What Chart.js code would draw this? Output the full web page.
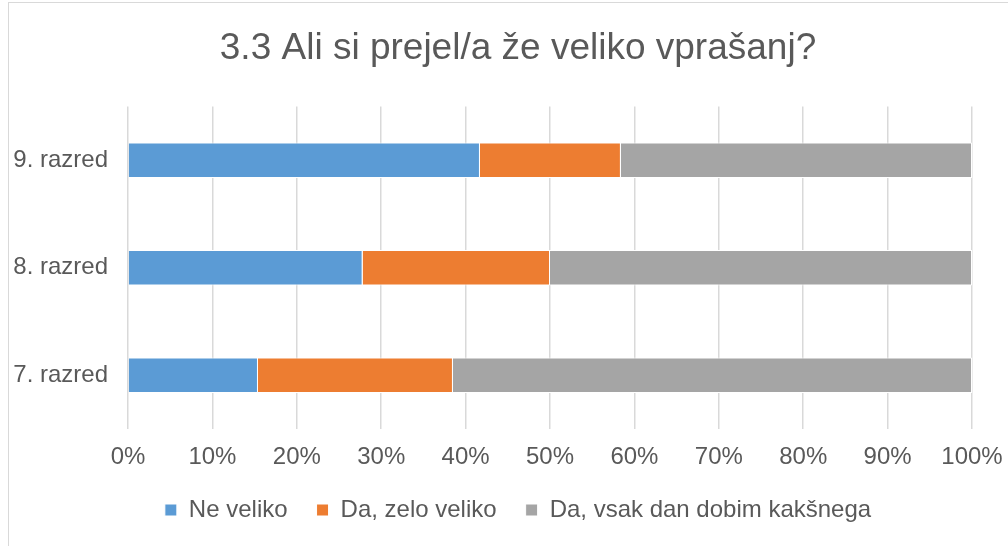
<!DOCTYPE html>
<html>
<head>
<meta charset="utf-8">
<script src="https://cdn.jsdelivr.net/npm/chart.js@4"></script>
<style>
    html, body { margin: 0; padding: 0; background: #fff; overflow: hidden; }
    #wrap { position: relative; width: 1008px; height: 546px; }
    #frame { position: absolute; left: 8px; top: 2px; width: 1100px; height: 600px; border: 1px solid #d9d9d9; pointer-events: none; }
</style>
</head>
<body>
<div id="wrap">
    <canvas id="chart" width="1008" height="546"></canvas>
    <div id="frame"></div>
</div>
<script>
const razredi = ['7. razred', '8. razred', '9. razred'];
const neVeliko = [15.4, 27.8, 41.7];
const daZeloVeliko = [23.1, 22.2, 16.7];
const daVsakDan = [61.5, 50.0, 41.6];
const odstotki = ['0%', '10%', '20%', '30%', '40%', '50%', '60%', '70%', '80%', '90%', '100%'];

document.addEventListener('DOMContentLoaded', function () {
    const ctx = document.getElementById('chart').getContext('2d');
    const font = "'Liberation Sans', Arial, sans-serif";
    const siva = '#595959';

    new Chart(ctx, {
        type: 'bar',
        data: {
            labels: razredi,
            datasets: [
                { label: 'Ne veliko', data: neVeliko, backgroundColor: '#5B9BD5' },
                { label: 'Da, zelo veliko', data: daZeloVeliko, backgroundColor: '#ED7D31' },
                { label: 'Da, vsak dan dobim kakšnega', data: daVsakDan, backgroundColor: '#A5A5A5' }
            ]
        },
        options: {
            indexAxis: 'y',
            responsive: false,
            animation: false,
            datasets: {
                bar: {
                    categoryPercentage: 0.5,
                    barPercentage: 0.66,
                    borderColor: '#ffffff',
                    borderWidth: 1
                }
            },
            // desna negativna, da je naslov centriran kot v originalu
            layout: {
                padding: { left: 8, right: -20, top: 10, bottom: 14 }
            },
            plugins: {
                title: {
                    display: true,
                    text: '3.3 Ali si prejel/a že veliko vprašanj?',
                    color: siva,
                    font: { family: font, size: 37, weight: 'normal' },
                    padding: { top: 17, bottom: 35 }
                },
                legend: {
                    position: 'bottom',
                    labels: {
                        color: siva,
                        font: { family: font, size: 24 },
                        boxWidth: 12,
                        boxHeight: 12,
                        padding: 29
                    }
                },
                tooltip: { enabled: false }
            },
            scales: {
                x: {
                    stacked: true,
                    min: 0,
                    max: 100,
                    grid: { color: '#d9d9d9', lineWidth: 1.5, drawTicks: false },
                    border: { display: false },
                    ticks: {
                        stepSize: 10,
                        color: siva,
                        padding: 14,
                        font: { family: font, size: 24 },
                        callback: (value, index) => odstotki[index]
                    },
                    afterFit(scale) {
                        scale.height = 40;
                        scale.paddingRight = 36;
                        scale.paddingLeft = 0;
                    }
                },
                y: {
                    stacked: true,
                    reverse: true,
                    grid: { display: false },
                    border: { display: false },
                    ticks: {
                        color: siva,
                        padding: 12,
                        font: { family: font, size: 24 }
                    },
                    afterFit(scale) {
                        scale.width = 120;
                        scale.paddingTop = 0;
                        scale.paddingBottom = 0;
                    }
                }
            }
        }
    });
});
</script>
</body>
</html>
